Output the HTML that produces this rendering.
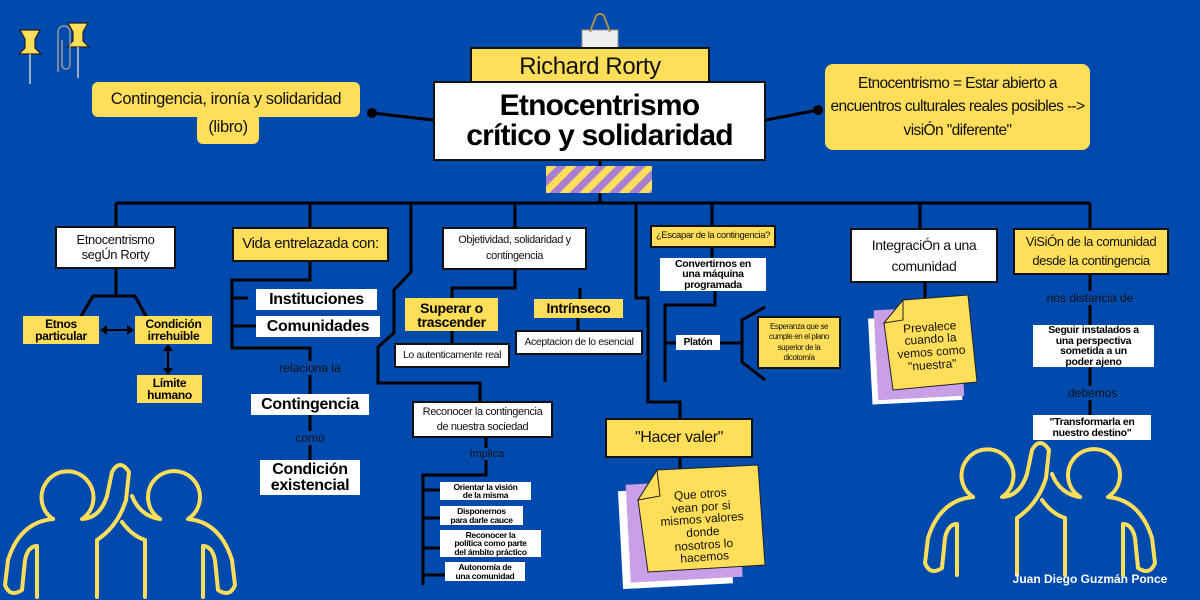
<!DOCTYPE html>
<html><head><meta charset="utf-8"><style>
*{margin:0;padding:0;box-sizing:border-box}
body{width:1200px;height:600px;background:#004aad;position:relative;overflow:hidden;font-family:"Liberation Sans",sans-serif}
.b{position:absolute;display:flex;align-items:center;justify-content:center;text-align:center;color:#111;line-height:1.1;white-space:nowrap}
.w{background:#fff}.y{background:#ffde59}
.bd{border:2px solid #111}
.h{font-weight:400;letter-spacing:-0.4px}
.k{font-weight:700;color:#000;letter-spacing:-0.3px}
.lbl{position:absolute;color:#111;font-size:12px;background:#004aad;padding:0 2px;text-align:center;white-space:nowrap}
svg{position:absolute;left:0;top:0}
</style></head><body>
<svg width="1200" height="600">
<g stroke="#000" stroke-width="3" fill="none">
<path d="M116,203H1090M600,160V203"/>
<path d="M116,203V228M310,203V231M515,203V227M712,203V226M920,203V228M1090,203V228"/>
<path d="M411,203V272L394,290V333L378,347V383H480V403"/>
<path d="M636,203V298H648V402H680V418"/>
<path d="M116,268V296H93L80,318M116,296H135L147,318"/>
<path d="M310,261V280H232V348H310V460"/>
<path d="M232,298H248M232,326H256"/>
<path d="M515,270V288H452V300M580,288V300M452,331V345M578,318V332"/>
<path d="M486,437V475H423V585M423,490H440M423,518H440M423,548H440M423,575H445"/>
<path d="M712,247V258M715,291V305H665V382M665,343H676M720,343H742M765,307L742,320V362L765,380"/>
<path d="M680,457V472M925,282V298"/>
<path d="M1090,274V415"/>
<path d="M372,113L433,120M818,110L766,120"/>
<path d="M103,330H131M168,347V372" stroke-width="2"/>
</g>
<g fill="#000"><circle cx="372" cy="113" r="5"/><circle cx="818" cy="110" r="5"/>
<path d="M100,330l7,-5v10z M134,330l-7,-5v10z M168,344l-5,7h10z M168,375l-5,-7h10z"/></g>
<defs><pattern id="st" width="14" height="14" patternUnits="userSpaceOnUse" patternTransform="rotate(45)"><rect width="7" height="14" fill="#ffde59"/><rect x="7" width="7" height="14" fill="#a77fd4"/></pattern></defs>
<rect x="546" y="166" width="106" height="27" fill="url(#st)"/>
<g fill="#ffde59" stroke="#222" stroke-width="1.2">
<path d="M20,30h20l-5,9v9l6,6h-22l6,-6v-9z"/><path d="M68,23h20l-5,9v9l6,6h-22l6,-6v-9z"/></g>
<g stroke="#ccc" stroke-width="1.5"><path d="M30,54V84M78,47V78"/></g>
<path d="M58,72V32a6,6 0 0 1 12,0V65a4,4 0 0 1 -8,0V40" stroke="#999" stroke-width="1.5" fill="none"/>
<rect x="582" y="30" width="36" height="18" fill="#eee" stroke="#999"/>
<path d="M590,32L596,16a5,5 0 0 1 8,0L610,32" stroke="#a88b4a" stroke-width="2" fill="none"/>
<g transform="rotate(-3 680 528)"><rect x="620" y="488" width="110" height="98" fill="#fff"/><rect x="628" y="482" width="112" height="98" fill="#c9a0e8"/></g>
<path d="M657,470L758,465L765,565L648,572L638,500z" fill="#ffde59" stroke="#222" stroke-width="1"/>
<path d="M657,470L638,500L660,496z" fill="#ffde59" stroke="#222" stroke-width="1"/>
<g transform="rotate(-3 920 355)"><rect x="870" y="316" width="90" height="86" fill="#fff"/><rect x="876" y="308" width="86" height="90" fill="#c9a0e8"/></g>
<path d="M903,300L968,295L977,382L893,390L884,323z" fill="#ffde59" stroke="#222" stroke-width="1"/>
<path d="M903,300L884,323L903,320z" fill="#ffde59" stroke="#222" stroke-width="1"/>
<g id="fig" stroke="#ffde59" stroke-width="4" fill="none" stroke-linecap="round" stroke-linejoin="round">
<path d="M53,519A26,26 0 1 1 82,519Q100,518 107,496L112,472Q120,458 129,472L126,500Q118,526 97,540V597"/>
<path d="M53,519Q20,522 8,560L5,585Q10,598 22,590L25,560Q28,546 37,546V597"/>
<path d="M160,519A26,26 0 1 1 188,519Q220,522 232,560L235,585Q230,598 218,590L215,560Q212,546 203,546V597"/>
<path d="M160,519Q140,516 132,496M122,522Q132,536 145,540V597"/>
</g>
<use href="#fig" transform="translate(920,-22)"/>
</svg>

<div class="b y bd h" style="left:470px;top:47px;width:240px;height:40px;font-size:24px">Richard Rorty</div>
<div class="b w bd k" style="left:433px;top:81px;width:333px;height:80px;font-size:30px;line-height:1;font-weight:900;letter-spacing:-0.8px">Etnocentrismo<br>crítico y solidaridad</div>
<div class="b y h" style="left:92px;top:82px;width:268px;height:35px;font-size:16.5px;border-radius:6px">Contingencia, ironía y solidaridad</div>
<div class="b y h" style="left:197px;top:110px;width:62px;height:34px;font-size:16.5px;border-radius:6px">(libro)</div>
<div class="b y h" style="left:825px;top:64px;width:265px;height:86px;font-size:15.5px;border-radius:8px;line-height:1.5;letter-spacing:-0.6px">Etnocentrismo = Estar abierto a<br>encuentros culturales reales posibles --&gt;<br>visiÓn "diferente"</div>

<div class="b w bd h" style="left:55px;top:226px;width:121px;height:43px;font-size:13px">Etnocentrismo<br>segÚn Rorty</div>
<div class="b y k" style="left:23px;top:316px;width:76px;height:28px;font-size:12px;line-height:1">Etnos<br>particular</div>
<div class="b y k" style="left:135px;top:316px;width:77px;height:28px;font-size:12px;line-height:1">Condición<br>irrehuible</div>
<div class="b y k" style="left:137px;top:375px;width:65px;height:28px;font-size:12px;line-height:1">Límite<br>humano</div>

<div class="b y bd h" style="left:232px;top:227px;width:157px;height:35px;font-size:15px">Vida entrelazada con:</div>
<div class="b w k" style="left:256px;top:289px;width:121px;height:21px;font-size:16px">Instituciones</div>
<div class="b w k" style="left:256px;top:316px;width:124px;height:21px;font-size:16px">Comunidades</div>
<div class="lbl" style="left:276px;top:361px;width:68px">relaciona la</div>
<div class="b w k" style="left:251px;top:394px;width:118px;height:21px;font-size:16px">Contingencia</div>
<div class="lbl" style="left:292px;top:431px;width:36px">como</div>
<div class="b w k" style="left:260px;top:460px;width:100px;height:35px;font-size:16px;line-height:1">Condición<br>existencial</div>

<div class="b w bd h" style="left:442px;top:227px;width:145px;height:43px;font-size:11px;line-height:1.4">Objetividad, solidaridad y<br>contingencia</div>
<div class="b y k" style="left:405px;top:298px;width:93px;height:33px;font-size:14px;line-height:1">Superar o<br>trascender</div>
<div class="b y k" style="left:534px;top:299px;width:89px;height:19px;font-size:14px">Intrínseco</div>
<div class="b w bd h" style="left:394px;top:343px;width:116px;height:25px;font-size:10.5px">Lo autenticamente real</div>
<div class="b w bd h" style="left:515px;top:330px;width:128px;height:25px;font-size:10.5px">Aceptacion de lo esencial</div>
<div class="b w bd h" style="left:412px;top:401px;width:141px;height:37px;font-size:11px;line-height:1.35">Reconocer la contingencia<br>de nuestra sociedad</div>
<div class="lbl" style="left:468px;top:448px;width:38px;font-size:11px">implica</div>
<div class="b w k" style="left:440px;top:482px;width:91px;height:18px;font-size:8.5px;line-height:1">Orientar la visión<br>de la misma</div>
<div class="b w k" style="left:440px;top:506px;width:83px;height:19px;font-size:8.5px;line-height:1">Disponernos<br>para darle cauce</div>
<div class="b w k" style="left:440px;top:530px;width:101px;height:27px;font-size:8.5px;line-height:1">Reconocer la<br>política como parte<br>del ámbito práctico</div>
<div class="b w k" style="left:445px;top:562px;width:80px;height:19px;font-size:8.5px;line-height:1">Autonomía de<br>una comunidad</div>

<div class="b y bd h" style="left:650px;top:225px;width:126px;height:23px;font-size:9.5px">¿Escapar de la contingencia?</div>
<div class="b w k" style="left:660px;top:258px;width:106px;height:33px;font-size:10.5px;line-height:1">Convertirnos en<br>una máquina<br>programada</div>
<div class="b w k" style="left:676px;top:335px;width:44px;height:15px;font-size:10px">Platón</div>
<div class="b y bd h" style="left:757px;top:316px;width:84px;height:53px;font-size:8px;line-height:1.3">Esperanza que se<br>cumple en el plano<br>superior de la<br>dicotomía</div>
<div class="b y bd h" style="left:605px;top:418px;width:148px;height:40px;font-size:16px">"Hacer valer"</div>
<div class="b" style="left:645px;top:490px;width:115px;height:72px;font-size:12px;line-height:1.05;transform:rotate(-4deg)">Que otros<br>vean por si<br>mismos valores<br>donde<br>nosotros lo<br>hacemos</div>

<div class="b w bd h" style="left:850px;top:228px;width:148px;height:55px;font-size:14px;line-height:1.5">IntegraciÓn a una<br>comunidad</div>
<div class="b" style="left:890px;top:322px;width:82px;height:48px;font-size:12px;line-height:1.05;transform:rotate(-4deg)">Prevalece<br>cuando la<br>vemos como<br>"nuestra"</div>

<div class="b y bd h" style="left:1013px;top:228px;width:156px;height:47px;font-size:13px;line-height:1.45">ViSiÓn de la comunidad<br>desde la contingencia</div>
<div class="lbl" style="left:1042px;top:291px;width:96px">nos distancia de</div>
<div class="b w k" style="left:1033px;top:325px;width:121px;height:42px;font-size:10.5px;line-height:1">Seguir instalados a<br>una perspectiva<br>sometida a un<br>poder ajeno</div>
<div class="lbl" style="left:1066px;top:386px;width:50px">debemos</div>
<div class="b w k" style="left:1033px;top:415px;width:118px;height:25px;font-size:10.5px;line-height:1">"Transformarla en<br>nuestro destino"</div>
<div class="b" style="left:995px;top:571px;width:190px;height:18px;font-size:12px;font-weight:700;color:#fff">Juan Diego Guzmán Ponce</div>
</body></html>
